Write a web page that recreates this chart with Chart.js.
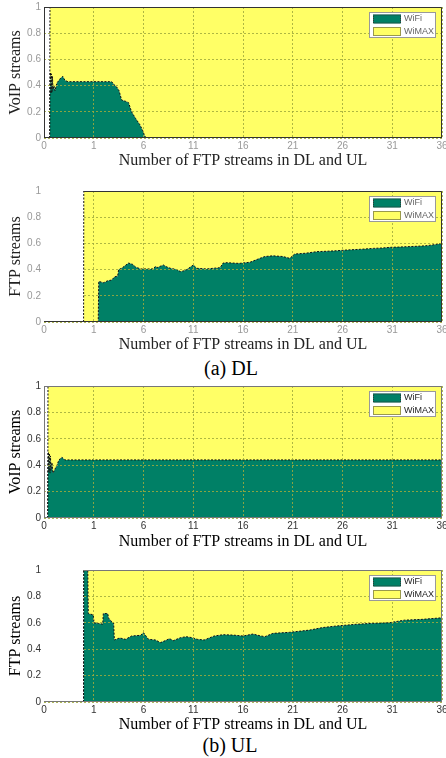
<!DOCTYPE html>
<html>
<head>
<meta charset="utf-8">
<script src="https://cdn.jsdelivr.net/npm/chart.js@4.4.1/dist/chart.umd.min.js"></script>
<style>
  body { margin: 0; background: #fff; }
  #page { position: relative; width: 446px; height: 758px; overflow: hidden; }
  canvas { position: absolute; left: 0; }
  .dl { filter: blur(0.45px); }
  .caption { position: absolute; font: 20px "Liberation Serif", serif; line-height: 20px; transform: translateX(-50%); white-space: nowrap; color: #000; }
</style>
</head>
<body>
<div id="page">
  <canvas id="dl-voip" class="dl" width="446" height="170" style="top:0"></canvas>
  <canvas id="dl-ftp" class="dl" width="446" height="174" style="top:180px"></canvas>
  <div class="caption" style="left:231px; top:358px">(a) DL</div>
  <canvas id="ul-voip" width="446" height="175" style="top:376px"></canvas>
  <canvas id="ul-ftp" width="446" height="174" style="top:560px"></canvas>
  <div class="caption" style="left:230px; top:735px">(b) UL</div>
</div>
<script>
document.addEventListener('DOMContentLoaded', init);

// tick labels of the x axis (the first tick sits at -4 but reads "0")
const xTickLabels = ['0', '1', '6', '11', '16', '21', '26', '31', '36'];
const yTickLabels = ['0', '0.2', '0.4', '0.6', '0.8', '1'];
const seriesNames = ['WiFi', 'WiMAX'];

// WiFi share per panel, WiMAX takes the rest up to 1
const dlVoipX = [-3.4, -3.35, -3.3, -3.25, -3.2, -3.15, -3.1, -3.0, -2.9, -2.7, -2.5, -2.3, -2.1, -1.9, -1.6, 0, 2.0, 2.6, 2.8, 3.0, 3.3, 3.55, 3.8, 4.2, 4.5, 4.8, 5.2, 5.65, 5.9, 6.15, 6.35, 36];
const dlVoipWifi = [0.36, 0.50, 0.34, 0.49, 0.35, 0.47, 0.37, 0.40, 0.36, 0.42, 0.44, 0.46, 0.47, 0.44, 0.43, 0.43, 0.43, 0.43, 0.43, 0.41, 0.39, 0.36, 0.29, 0.28, 0.27, 0.20, 0.15, 0.10, 0.06, 0.01, 0, 0];

const dlFtpX = [0, 1.45, 1.5, 2.0, 2.4, 2.8, 3.1, 3.4, 3.5, 3.8, 4.5, 4.9, 5.2, 5.7, 7.0, 7.2, 7.35, 8.0, 8.35, 8.7, 9.35, 9.7, 10.0, 10.35, 11.0, 11.35, 12.35, 13.7, 14.0, 14.4, 15.4, 15.7, 16.7, 17.5, 18.2, 19.0, 20.0, 20.7, 21.2, 22.3, 23.4, 24.4, 25.4, 26.5, 27.8, 29.1, 30.0, 30.8, 31.6, 32.5, 33.5, 34.5, 35.2, 36];
const dlFtpWifi = [0, 0, 0.31, 0.30, 0.315, 0.32, 0.345, 0.35, 0.40, 0.41, 0.45, 0.44, 0.42, 0.405, 0.405, 0.425, 0.415, 0.435, 0.42, 0.41, 0.40, 0.385, 0.39, 0.40, 0.435, 0.41, 0.405, 0.415, 0.45, 0.453, 0.448, 0.448, 0.456, 0.48, 0.50, 0.505, 0.50, 0.486, 0.519, 0.525, 0.537, 0.54, 0.544, 0.55, 0.555, 0.562, 0.565, 0.57, 0.572, 0.575, 0.578, 0.583, 0.59, 0.60];

const ulVoipX = [-3.6, -3.55, -3.5, -3.45, -3.4, -3.35, -3.3, -3.2, -3.1, -2.9, -2.7, -2.5, -2.2, -1.9, 36];
const ulVoipWifi = [0.36, 0.50, 0.35, 0.49, 0.34, 0.47, 0.36, 0.42, 0.34, 0.37, 0.40, 0.44, 0.46, 0.44, 0.44];

const ulFtpX = [0, 0.4, 0.45, 0.95, 1.03, 1.5, 1.9, 1.96, 2.4, 2.5, 2.9, 3.0, 3.07, 3.6, 4.2, 4.8, 5.7, 6.0, 6.5, 7.2, 7.7, 8.2, 8.6, 9.0, 9.7, 10.3, 10.9, 11.4, 12.1, 13.1, 14.0, 15.0, 16.0, 17.0, 17.7, 18.2, 19.0, 20.7, 22.7, 24.0, 25.4, 27.4, 29.0, 30.7, 32.2, 34.0, 36];
const ulFtpWifi = [1, 1, 0.67, 0.66, 0.60, 0.595, 0.59, 0.67, 0.67, 0.635, 0.60, 0.60, 0.47, 0.485, 0.475, 0.50, 0.505, 0.525, 0.475, 0.47, 0.45, 0.465, 0.48, 0.465, 0.487, 0.495, 0.487, 0.475, 0.47, 0.50, 0.51, 0.507, 0.50, 0.515, 0.502, 0.495, 0.52, 0.528, 0.545, 0.564, 0.576, 0.589, 0.596, 0.60, 0.62, 0.626, 0.638];

const green = '#008066';
const yellow = '#FFFF66';
const gridColor = 'rgba(160,170,60,0.85)';

// white box with the two swatches, top right inside the plot
const cornerLegend = {
    id: 'cornerLegend',
    afterDraw(chart, args, opts)
    {
        const ctx = chart.ctx, a = chart.chartArea;
        const w = 67, h = 26, x = a.right - w - 6, y = a.top + 5;
        ctx.save();
        ctx.fillStyle = '#fff';
        ctx.fillRect(x, y, w, h);
        ctx.strokeStyle = '#999';
        ctx.lineWidth = 1;
        ctx.strokeRect(x + 0.5, y + 0.5, w - 1, h - 1);
        chart.data.datasets.forEach((ds, i) => {
            const cy = y + 7 + i * 12.5;
            ctx.fillStyle = ds.backgroundColor;
            ctx.fillRect(x + 4, cy - 4.5, 28, 9);
            ctx.setLineDash([1, 1]);
            ctx.strokeStyle = '#333';
            ctx.strokeRect(x + 4.5, cy - 4, 27, 8);
            ctx.setLineDash([]);
            ctx.fillStyle = opts.color;
            ctx.font = '9px "Liberation Sans"';
            ctx.textBaseline = 'middle';
            ctx.textAlign = 'left';
            ctx.fillText(ds.label, x + 35, cy);
        });
        ctx.restore();
    }
};

// axes box; on the FTP panels the part left of the first sample is blank
const frame = {
    id: 'frame',
    afterDraw(chart, args, opts)
    {
        const ctx = chart.ctx, a = chart.chartArea;
        let left = a.left;
        ctx.save();
        if (opts.blankUntil !== undefined)
        {
            left = chart.scales.x.getPixelForValue(opts.blankUntil);
            ctx.fillStyle = '#fff';
            ctx.fillRect(a.left - 1, a.top - 1, left - a.left - 0.5, a.bottom - a.top);
        }
        ctx.strokeStyle = opts.color;
        ctx.lineWidth = 1;
        ctx.beginPath();
        ctx.moveTo(a.left, a.bottom - 0.5);
        ctx.lineTo(a.right, a.bottom - 0.5);
        ctx.moveTo(left, a.top + 0.5);
        ctx.lineTo(a.right - 0.5, a.top + 0.5);
        ctx.lineTo(a.right - 0.5, a.bottom);
        if (opts.blankUntil === undefined)
        {
            ctx.moveTo(a.left + 0.5, a.top);
            ctx.lineTo(a.left + 0.5, a.bottom);
        }
        ctx.stroke();
        ctx.restore();
    }
};

function areaData(xs, wifi)
{
    // both shares are zero just before the first sample
    const x0 = xs[0] - 0.02;
    return {
        wifi: [{x: x0, y: 0}].concat(xs.map((x, i) => ({x: x, y: wifi[i]}))),
        wimax: [{x: x0, y: 0}].concat(xs.map((x, i) => ({x: x, y: 1 - wifi[i]})))
    };
}

function makeChart(id, yTitle, xs, wifi, look)
{
    const d = areaData(xs, wifi);
    new Chart(document.getElementById(id),
    {
        type: 'line',
        data: {
            datasets: [
                {
                    label: seriesNames[0],
                    data: d.wifi,
                    backgroundColor: green,
                    borderColor: '#111',
                    borderWidth: 1,
                    borderDash: [2, 1.5],
                    fill: 'origin',
                    pointRadius: 0,
                    tension: 0
                },
                {
                    label: seriesNames[1],
                    data: d.wimax,
                    backgroundColor: yellow,
                    borderColor: '#111',
                    borderWidth: 1,
                    borderDash: [2, 1.5],
                    fill: '-1',
                    pointRadius: 0,
                    tension: 0
                }
            ]
        },
        options: {
            responsive: false,
            animation: false,
            events: [],
            layout: {
                padding: {top: look.top, right: 4, left: 0, bottom: 0}
            },
            plugins: {
                legend: {display: false},
                tooltip: {enabled: false},
                frame: {color: look.box, blankUntil: look.blank ? xs[0] : undefined},
                cornerLegend: {color: look.legend}
            },
            scales: {
                x: {
                    type: 'linear',
                    min: -4,
                    max: 36,
                    ticks: {
                        stepSize: 5,
                        autoSkip: false,
                        maxRotation: 0,
                        padding: 2.5,
                        color: look.tick,
                        font: {family: 'Liberation Sans', size: 10},
                        callback: (v, i) => xTickLabels[i]
                    },
                    grid: {color: gridColor, drawTicks: false, z: 1},
                    border: {display: false, dash: [2, 2]},
                    title: {
                        display: true,
                        text: 'Number of FTP streams in DL and UL',
                        color: look.title,
                        padding: {top: 0, bottom: 0},
                        font: {family: 'Liberation Serif', size: 16, lineHeight: 1.2}
                    },
                    afterFit: s => { s.height = look.xh; s.paddingLeft = 0; s.paddingRight = 0; }
                },
                y: {
                    stacked: true,
                    min: 0,
                    max: 1,
                    ticks: {
                        stepSize: 0.2,
                        padding: 3,
                        color: look.tick,
                        font: {family: 'Liberation Sans', size: 10},
                        callback: (v, i) => yTickLabels[i]
                    },
                    grid: {color: gridColor, drawTicks: false, z: 1},
                    border: {display: false, dash: [2, 2]},
                    title: {
                        display: true,
                        text: yTitle,
                        color: look.title,
                        padding: {top: 6, bottom: 0},
                        font: {family: 'Liberation Serif', size: 16, lineHeight: 1.2}
                    },
                    afterFit: s => { s.width = 44; s.paddingTop = 0; s.paddingBottom = 0; }
                }
            }
        },
        plugins: [frame, cornerLegend]
    });
}

function init()
{
    const dl = {tick: '#999', title: '#222', legend: '#666', box: '#333'};
    const ul = {tick: '#333', title: '#000', legend: '#222', box: '#777'};

    makeChart('dl-voip', 'VoIP streams', dlVoipX, dlVoipWifi, Object.assign({top: 7, xh: 32}, dl));
    makeChart('dl-ftp', 'FTP streams', dlFtpX, dlFtpWifi, Object.assign({top: 11, xh: 32, blank: true}, dl));
    makeChart('ul-voip', 'VoIP streams', ulVoipX, ulVoipWifi, Object.assign({top: 10, xh: 33}, ul));
    makeChart('ul-ftp', 'FTP streams', ulFtpX, ulFtpWifi, Object.assign({top: 10, xh: 32, blank: true}, ul));
}
</script>
</body>
</html>
